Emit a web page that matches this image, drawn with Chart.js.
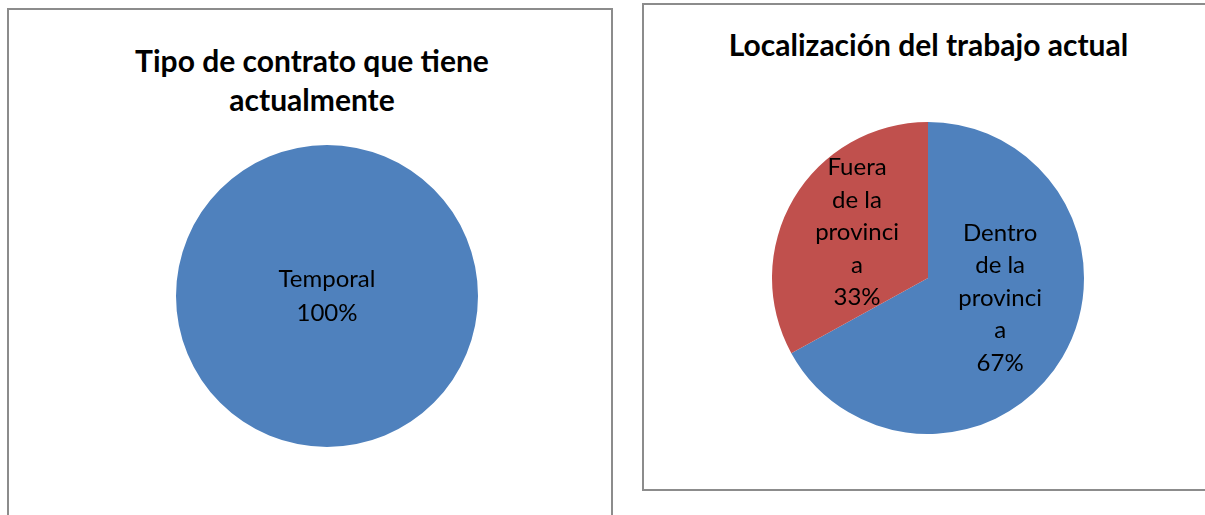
<!DOCTYPE html>
<html>
<head>
<meta charset="utf-8">
<script src="https://cdn.jsdelivr.net/npm/chart.js@4.4.1/dist/chart.umd.min.js"></script>
<style>
  html, body { margin: 0; padding: 0; background: #fff; overflow: hidden; }
  body { width: 1205px; height: 515px; position: relative; font-family: Lato, "Liberation Sans", sans-serif; }
  .box { position: absolute; border: 2px solid #8c8c8c; box-sizing: border-box; }
  .title { position: absolute; text-align: center; font-weight: bold; font-size: 30px; line-height: 39px; color: #000; white-space: nowrap; }
  canvas { position: absolute; }
</style>
</head>
<body>
<div class="box" style="left:7px; top:8px; width:606px; height:600px;"></div>
<div class="box" style="left:642px; top:3px; width:620px; height:488px;"></div>
<div class="title" id="t1" style="left:8px; top:41px; width:608px;"></div>
<div class="title" id="t2" style="left:643px; top:25px; width:571px;"></div>
<div style="position:absolute; left:176px; top:145px; width:302px; height:302px;"><canvas id="c1"></canvas></div>
<div style="position:absolute; left:772px; top:122px; width:312px; height:312px;"><canvas id="c2"></canvas></div>
<script>
// ---- data ----
const contractTitle = ["Tipo de contrato que tiene", "actualmente"];
const contractCategories = ["Temporal"];
const contractValues = [100];

const locationTitle = ["Localización del trabajo actual"];
const locationCategories = ["Dentro de la provincia", "Fuera de la provincia"];
const locationValues = [67, 33];

const sliceColors = ["#4F81BD", "#C0504D"];

document.getElementById('t1').innerHTML = contractTitle.join('<br>');
document.getElementById('t2').innerHTML = locationTitle.join('<br>');

function wrapText(ctx, text, maxWidth) {
  const words = text.split(' ');
  const lines = [];
  let cur = '';
  for (const w of words) {
    const test = cur ? cur + ' ' + w : w;
    if (ctx.measureText(test).width <= maxWidth) { cur = test; continue; }
    if (cur) lines.push(cur);
    let word = w;
    while (ctx.measureText(word).width > maxWidth) {
      let i = word.length;
      while (i > 1 && ctx.measureText(word.slice(0, i)).width > maxWidth) i--;
      lines.push(word.slice(0, i));
      word = word.slice(i);
    }
    cur = word;
  }
  if (cur) lines.push(cur);
  return lines;
}

const sliceLabels = {
  id: 'sliceLabels',
  afterDatasetsDraw(chart, args, opts) {
    const ctx = chart.ctx;
    const meta = chart.getDatasetMeta(0);
    const data = chart.data.datasets[0].data;
    const total = data.reduce((a, b) => a + b, 0);
    ctx.save();
    ctx.font = opts.fontSize + 'px Lato, "Liberation Sans", sans-serif';
    ctx.fillStyle = '#000';
    ctx.textAlign = 'center';
    ctx.textBaseline = 'middle';
    meta.data.forEach((arc, i) => {
      const p = arc.getProps(['x', 'y', 'startAngle', 'endAngle', 'outerRadius'], true);
      let cx = p.x, cy = p.y;
      if (data.length > 1) {
        const adj = (opts.placement && opts.placement[i]) || {shift: 0, factor: 0.5};
        const mid = (p.startAngle + p.endAngle) / 2 + adj.shift * Math.PI / 180;
        cx = p.x + Math.cos(mid) * p.outerRadius * adj.factor;
        cy = p.y + Math.sin(mid) * p.outerRadius * adj.factor;
      }
      const lines = wrapText(ctx, chart.data.labels[i], opts.maxWidth);
      lines.push(Math.round(data[i] / total * 100) + '%');
      const lh = opts.lineHeight;
      const y0 = cy - (lines.length - 1) * lh / 2;
      lines.forEach((ln, k) => ctx.fillText(ln, cx, y0 + k * lh));
    });
    ctx.restore();
  }
};

function makePie(id, labels, values, radius, placement, lineHeight, maxWidth) {
  return new Chart(document.getElementById(id), {
    type: 'pie',
    data: {
      labels: labels,
      datasets: [{
        data: values,
        backgroundColor: sliceColors.slice(0, values.length),
        borderWidth: 0
      }]
    },
    options: {
      responsive: true,
      maintainAspectRatio: false,
      animation: false,
      radius: radius,
      layout: { padding: 0 },
      plugins: {
        legend: { display: false },
        tooltip: { enabled: false },
        title: { display: false },
        sliceLabels: { fontSize: 24, lineHeight: lineHeight, maxWidth: maxWidth, placement: placement }
      }
    },
    plugins: [sliceLabels]
  });
}

makePie('c1', contractCategories, contractValues, 151, null, 34, 200);
makePie('c2', locationCategories, locationValues, 156,
  [{shift: -15, factor: 0.48}, {shift: 2, factor: 0.54}], 32.5, 89);
</script>
</body>
</html>
